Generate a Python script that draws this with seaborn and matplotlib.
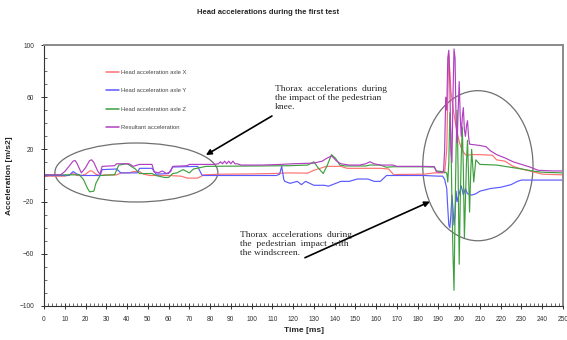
import numpy as np
import pandas as pd
import matplotlib
matplotlib.use("Agg")
import matplotlib.pyplot as plt
from matplotlib.patches import Ellipse
from matplotlib.lines import Line2D
import seaborn as sns

# ---------------- data ----------------
series_names = ["Head acceleration axle X", "Head acceleration axle Y",
                "Head acceleration axle Z", "Resultant acceleration"]

t_x = [0, 10, 12, 14, 16, 18, 20, 22, 23, 25, 27, 30, 35, 37, 41, 43, 46, 48, 51, 60,
       66, 69, 74, 77, 85, 100, 110, 118, 127, 130, 133, 136, 143, 146, 155, 162, 166,
       168.5, 170, 183, 188, 191, 193, 194, 194.5, 195, 196, 197, 198, 199, 200, 201,
       202, 203, 204, 206, 210, 216, 218, 222, 226, 230, 234, 240, 250]
a_x = [-0.5, -0.5, 0.5, 1.5, 0, 0, 1, 3.5, 3.5, 1, 0, 0.5, 0.5, 2, 2, 3, 3, 1, 0, 0,
       -0.5, -2, -2, 0.5, 1, 1.2, 1.5, 2, 1.8, 4, 5.5, 7, 7, 5.5, 5.5, 5.5, 5,
       0.5, 0.8, 1, 2, 2, 2, 20, 60, 93, 65, 52, 42, 33, 26, 21,
       18, 16, 15.5, 16, 16, 15.5, 12, 11, 7, 5, 3.5, 1, 0.5]

t_y = [0, 12, 14, 16, 18, 27, 28, 35, 37, 45, 46, 52, 54, 60, 62, 74, 76, 77, 112,
       113.5, 114.5, 115.5, 116, 118.5, 122, 124, 126, 130, 135, 137, 143, 147, 151,
       156, 159, 162, 165, 183, 190, 192, 193, 194, 194.5, 195, 195.5, 196, 196.5, 197,
       197.5, 198, 198.5, 199, 200, 201, 202, 203, 204, 206, 208, 210, 215, 220, 225,
       228, 230, 250]
a_y = [0, 0, 3, 1, 0, 0, 4.5, 5, 2, 2, 5.5, 5.5, 1, 1.5, 6.5, 7, 0.5, 0, 0,
       1, 7, -3, -4.5, -6, -4.5, -7, -4.5, -7.5, -7.5, -8.2, -4.5, -4.5, -2.7,
       -2.7, -4.5, -4.5, 0, 0, -0.5, -0.5, -3, -10, -25, -38, -40, -30, -15, -25,
       -38, -30, -12, -20, -14, -8, -15, -10, -14, -15, -14, -12, -10, -9, -7,
       -4.5, -3.5, -3.5]

t_z = [0, 17, 19, 21, 22, 24, 25, 27, 34, 36, 40, 42, 44, 46, 52, 54, 58, 60, 62, 64,
       67, 70, 72, 75, 78, 118, 127, 130, 132, 134.5, 136.5, 138.5, 140.5, 142.5, 145,
       155, 157, 162, 165, 168, 182, 188, 189, 192, 194, 194.5, 195, 195.5, 196, 196.5,
       197, 197.5, 198, 198.5, 199, 199.5, 200, 200.5, 201, 201.5, 202, 202.5, 203,
       203.5, 204, 204.5, 205, 205.5, 206, 207, 208, 210, 218, 222, 226, 230, 235,
       240, 250]
a_z = [0.5, 0.5, -3, -10, -12.5, -12, -6, 0, 0.5, 8, 9, 7, 5, 1.5, 1.5, 0, -1.5, -1.5,
       1.5, 2, 4.5, 2, 5, 6, 7, 7.5, 8, 10.5, 6, 1.5, 8, 16, 13, 8, 7.3,
       7.3, 8, 8, 6.3, 6.7, 6.7, 6.5, 3.5, 3, 2, -5, 10, 48, 30, -20,
       -60, -88, -30, 20, 50, 0, -68, -20, 15, 37, 5, -48, -20,
       10, 27, 0, -28, 0, 20, -5, 12, 8.5, 8, 7, 6, 5, 3.5,
       2.5, 2]

t_r = [0, 8, 10, 12, 14, 15, 16, 18, 20, 22, 23, 24, 26, 27, 28, 34, 35, 41, 43, 45, 46,
       52, 53, 55, 57, 59, 61, 62, 69, 70, 82, 84, 85, 86, 87, 88, 89, 90, 91, 92, 93,
       95, 105, 114, 120, 130, 134, 136, 138.5, 141, 143, 147, 152, 155, 157, 159, 162,
       168, 170, 182, 188, 189, 190, 192, 192.5, 193, 193.5, 194, 194.5, 195, 195.5,
       196, 196.5, 197, 197.5, 198, 198.5, 199, 199.5, 200, 200.5, 201, 201.5, 202,
       202.5, 203, 203.5, 204, 204.5, 205, 210, 213, 215, 218, 222, 226, 230, 234, 238,
       245, 250]
a_r = [0.5, 0.5, 3, 7, 11, 11.5, 9, 2, 6, 11.5, 12, 10, 3, 1, 7, 7.5, 9, 9, 7, 8, 8.5,
       8.5, 3, 2, 3.5, 1.5, 3, 7, 7.5, 8.5, 8.5, 9, 10.5, 9, 11, 9, 11, 9, 11, 9, 9,
       8, 8, 8.5, 9, 9.5, 11, 13, 15, 11, 9, 8, 8, 9, 10.5, 9, 8,
       8, 7, 7, 6.8, 3, 2.5, 2.5, 4, 20, 60, 50, 90, 96, 70,
       20, 10, 60, 97, 90, 40, 25, 50, 72, 45, 30, 45, 52,
       35, 30, 38, 42, 30, 24, 23, 22, 19, 16, 13.5, 10.5, 8.5, 6.5, 4,
       3.5, 3.5]

x_ticks = list(range(0, 251, 10))
y_ticks = [-100, -60, -20, 20, 60, 100]

# ---------------- figure ----------------
sns.set_style("ticks")
plt.rcParams["font.family"] = ["Liberation Sans", "DejaVu Sans"]

df = pd.concat([
    pd.DataFrame({"t": t_x, "a": a_x, "s": series_names[0]}),
    pd.DataFrame({"t": t_y, "a": a_y, "s": series_names[1]}),
    pd.DataFrame({"t": t_z, "a": a_z, "s": series_names[2]}),
    pd.DataFrame({"t": t_r, "a": a_r, "s": series_names[3]}),
], ignore_index=True)

colors = ["#ff7070", "#5a5aff", "#3f9f3f", "#b040c0"]
palette = dict(zip(series_names, colors))

fig = plt.figure(figsize=(5.67, 3.40), dpi=100)
ax = fig.add_axes([44 / 567, 34 / 340, 519 / 567, 261 / 340])

sns.lineplot(data=df, x="t", y="a", hue="s", hue_order=series_names, palette=palette,
             estimator=None, linewidth=0.85, ax=ax, legend=False)

ax.set_xlim(0, 250)
ax.set_ylim(-100, 100)
ax.set_xticks(x_ticks)
ax.set_yticks(y_ticks)
ax.set_xticks(np.arange(0, 251, 2), minor=True)
ax.set_yticks(np.arange(-100, 101, 10), minor=True)
ax.tick_params(axis="both", which="major", direction="inout", length=4, width=0.7,
               labelsize=4.8, labelcolor="#333333", color="#333333", pad=5)
ax.tick_params(axis="both", which="minor", direction="in", length=2, width=0.5,
               color="#333333")

for side in ["top", "right"]:
    ax.spines[side].set_color("#8a8a8a")
    ax.spines[side].set_linewidth(1.4)
for side in ["left", "bottom"]:
    ax.spines[side].set_color("#333333")
    ax.spines[side].set_linewidth(0.8)

ax.set_xlabel("Time [ms]", fontsize=6, fontweight="bold", labelpad=3)
ax.set_ylabel("Acceleration [m/s2]", fontsize=6, fontweight="bold", labelpad=5)
fig.text(268 / 567, 1 - 13 / 340, "Head accelerations during the first test",
         ha="center", va="center", fontsize=5.5, fontweight="bold")

handles = [Line2D([], [], color=c, lw=1.1) for c in colors]
leg = ax.legend(handles, series_names, loc="upper left", bbox_to_anchor=(0.115, 0.915),
                frameon=False, fontsize=4.2, handlelength=2.2, labelspacing=2.3,
                handletextpad=0.4, borderaxespad=0)
for txt in leg.get_texts():
    txt.set_color("#444444")

# ellipses
ax.add_patch(Ellipse((44.5, 2.3), 78.5, 45.2, fill=False, edgecolor="#6f6f6f", lw=0.9))
ax.add_patch(Ellipse((209, 7.5), 53.1, 115, fill=False, edgecolor="#6f6f6f", lw=0.9))

# annotations
serif = ["Liberation Serif", "DejaVu Serif"]
ax.annotate("", xy=(78, 15.7), xytext=(109.8, 45.6),
            arrowprops=dict(arrowstyle="-|>", color="black", lw=1.2,
                            mutation_scale=8, shrinkA=0, shrinkB=0))
ax.annotate("", xy=(185.9, -20), xytext=(125.7, -63),
            arrowprops=dict(arrowstyle="-|>", color="black", lw=1.2,
                            mutation_scale=8, shrinkA=0, shrinkB=0))
ax.text(111.3, 69.5, "Thorax  accelerations  during\nthe impact of the pedestrian\nknee.",
        family=serif, fontsize=6.8, va="top", ha="left", linespacing=1.15)
ax.text(94.4, -42.5, "Thorax  accelerations  during\nthe  pedestrian  impact  with\nthe windscreen.",
        family=serif, fontsize=6.8, va="top", ha="left", linespacing=1.15)

fig.savefig("out.png", dpi=100, facecolor="white")
